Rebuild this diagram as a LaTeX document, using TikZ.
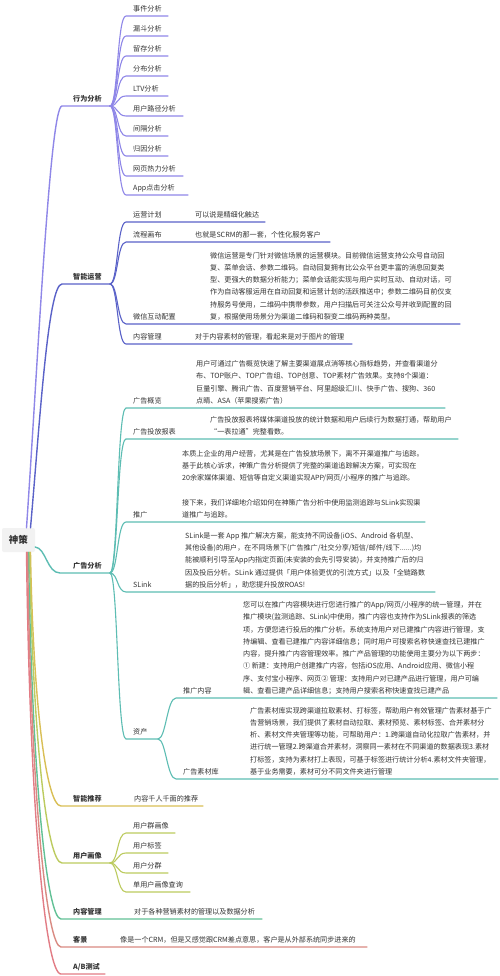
\documentclass[tikz,border=0pt]{standalone}
\usepackage{fontspec}
\setmainfont{Noto Sans CJK SC}
\usetikzlibrary{calc}
\definecolor{txt}{HTML}{333333}
\definecolor{cP}{HTML}{8F87E8}
\definecolor{cB}{HTML}{5A62C8}
\definecolor{cT}{HTML}{5DBDB3}
\definecolor{cG}{HTML}{D9BF56}
\definecolor{cY}{HTML}{BCCB5F}
\definecolor{cN}{HTML}{62C196}
\definecolor{cR}{HTML}{D98A82}
\definecolor{cK}{HTML}{E27C85}
\definecolor{rootbg}{HTML}{F2F2F2}
\newcommand\tf{\fontsize{7.1}{12.3}\selectfont}
\newcommand\mmkid[7]{%
  \coordinate (#6s) at (#3,#4);
  \coordinate (#6e) at (#5,#4);
  \draw[ln,#1] (#2) .. controls +(8,0) and +(-9,0) .. (#6s) -- (#6e);
  \node[lb] (#6) at ($(#6s)+(7,-4.5)$) {#7};
}
\newcommand\mmdet[4]{\node[dt] (#1) at (#2,#3-4.5) {#4};}
\begin{document}
\begin{tikzpicture}[x=1pt,y=-1pt,
  lb/.style={anchor=base west, inner sep=0pt, font=\tf, text=txt},
  lone/.style={lb, font=\tf\bfseries},
  dt/.style={lb, align=left},
  br/.style={line width=1.4pt, line cap=round},
  ln/.style={line width=1.1pt, line cap=round}]
\useasboundingbox[fill=white] (0,0) rectangle (500,976);

\node[fill=rootbg, rounded corners=2pt, minimum width=33pt, minimum height=24pt,
  inner sep=0pt, font=\fontsize{9.5}{11}\selectfont\bfseries, text=txt] (root) at (18.5,540) {神策};

% ---------------- 行为分析
\coordinate (xwS) at (62,106); \coordinate (xwF) at (110,106);
\draw[br,cP] ($(root.north)+(8,0)$) .. controls (38,360) and (50,106) .. (xwS) -- (xwF);
\node[lone] (xw) at (73,101.5) {行为分析};
\mmkid{cP}{xwF}{126}{16}{168}{xa}{事件分析}
\mmkid{cP}{xwF}{126}{36}{168}{xb}{漏斗分析}
\mmkid{cP}{xwF}{126}{56}{168}{xc}{留存分析}
\mmkid{cP}{xwF}{126}{76}{168}{xd}{分布分析}
\mmkid{cP}{xwF}{126}{96}{168}{xe}{LTV分析}
\mmkid{cP}{xwF}{126}{116}{183}{xf}{用户路径分析}
\mmkid{cP}{xwF}{126}{136}{168}{xg}{间隔分析}
\mmkid{cP}{xwF}{126}{156}{168}{xh}{归因分析}
\mmkid{cP}{xwF}{126}{176}{183}{xi}{网页热力分析}
\mmkid{cP}{xwF}{126}{195}{188}{xj}{App点击分析}

% ---------------- 智能运营
\coordinate (zyS) at (62,284); \coordinate (zyF) at (110,284);
\draw[br,cB] ($(root.north)+(12,0)$) .. controls (40,420) and (48,284) .. (zyS) -- (zyF);
\node[lone] (zy) at (73,279.5) {智能运营};
\mmkid{cB}{zyF}{126}{222}{265}{za}{运营计划}
\mmdet{zad}{195}{222}{可以说是精细化触达}
\mmkid{cB}{zyF}{126}{242}{330}{zb}{流程画布}
\mmdet{zbd}{195}{242}{也就是SCRM的那一套，个性化服务客户}
\mmkid{cB}{zyF}{126}{324}{460}{zc}{微信互动配置}
\mmdet{zcd}{210}{324}{微信运营是专门针对微信场景的运营模块。目前微信运营支持公众号自动回\\
复、菜单会话、参数二维码。自动回复拥有比公众平台更丰富的消息回复类\\
型、更强大的数据分析能力；菜单会话能实现与用户实时互动、自动对话，可\\
作为自动客服运用在自动回复和运营计划的活跃推送中；参数二维码目前仅支\\
持服务号使用，二维码中携带参数，用户扫描后可关注公众号并收到配置的回\\
复，根据使用场景分为渠道二维码和裂变二维码两种类型。}
\mmkid{cB}{zyF}{126}{344}{352}{zd}{内容管理}
\mmdet{zdd}{195}{344}{对于内容素材的管理，看起来是对于图片的管理}

% ---------------- 广告分析
\coordinate (ggS) at (60,573); \coordinate (ggF) at (110,573);
\draw[br,cT] ($(root.east)+(0,7)$) .. controls (46,548) and (47,573) .. (ggS) -- (ggF);
\node[lone] (gg) at (73,568.5) {广告分析};
\mmkid{cT}{ggF}{126}{408}{445}{ga}{广告概览}
\mmdet{gad}{196}{408}{用户可通过广告概览快速了解主要渠道展点消等核心指标趋势，并查看渠道分\\
布、TOP账户、TOP广告组、TOP创意、TOP素材广告效果。支持8个渠道：\\
巨量引擎、腾讯广告、百度营销平台、阿里超级汇川、快手广告、搜狗、360\\
点睛、ASA（苹果搜索广告）}
\mmkid{cT}{ggF}{126}{439}{458}{gb}{广告投放报表}
\mmdet{gbd}{210}{439}{广告投放报表将媒体渠道投放的统计数据和用户后续行为数据打通，帮助用户\\
“一表拉通”完整看数。}
\mmkid{cT}{ggF}{126}{522}{425}{gc}{推广}
\mmdet{gcd}{182}{522}{本质上企业的用户经营，尤其是在广告投放场景下，离不开渠道推广与追踪。\\
基于此核心诉求，神策广告分析提供了完整的渠道追踪解决方案，可实现在\\
20余家媒体渠道、短信等自定义渠道实现APP/网页/小程序的推广与追踪。\\[12.3pt]
接下来，我们详细地介绍如何在神策广告分析中使用监测追踪与SLink实现渠\\
道推广与追踪。}
\mmkid{cT}{ggF}{126}{592}{435}{gd}{SLink}
\mmdet{gdd}{185}{592}{SLink是一套 App 推广解决方案，能支持不同设备(iOS、Android 各机型、\\
其他设备)的用户，在不同场景下(广告推广/社交分享/短信/邮件/线下......)均\\
能被顺利引导至App内指定页面(未安装的会先引导安装)，并支持推广后的归\\
因及投后分析。SLink 通过提供「用户体验更优的引流方式」以及「全链路数\\
据的投后分析」，助您提升投放ROAS!}
\mmkid{cT}{ggF}{126}{739}{158}{ge}{资产}
\coordinate (geF) at (158,739);
\mmkid{cT}{geF}{176}{698}{497}{gf}{推广内容}
\mmdet{gfd}{243}{698}{您可以在推广内容模块进行您进行推广的App/网页/小程序的统一管理，并在\\
推广模块(监测追踪、SLink)中使用，推广内容也支持作为SLink报表的筛选\\
项，方便您进行投后的推广分析。系统支持用户对已建推广内容进行管理，支\\
持编辑、查看已建推广内容详细信息；同时用户可搜索名称快速查找已建推广\\
内容，提升推广内容管理效率。推广产品管理的功能使用主要分为以下两步：\\
① 新建：支持用户创建推广内容，包括iOS应用、Android应用、微信小程\\
序、支付宝小程序、网页② 管理：支持用户对已建产品进行管理，用户可编\\
辑、查看已建产品详细信息；支持用户搜索名称快速查找已建产品}
\mmkid{cT}{geF}{176}{779}{498}{gg2}{广告素材库}
\mmdet{ggd}{250}{779}{广告素材库实现跨渠道拉取素材、打标签，帮助用户有效管理广告素材基于广\\
告营销场景，我们提供了素材自动拉取、素材预览、素材标签、合并素材分\\
析、素材文件夹管理等功能，可帮助用户：1.跨渠道自动化拉取广告素材，并\\
进行统一管理2.跨渠道合并素材，洞察同一素材在不同渠道的数据表现3.素材\\
打标签，支持为素材打上表现，可基于标签进行统计分析4.素材文件夹管理，\\
基于业务需要，素材可分不同文件夹进行管理}

% ---------------- 智能推荐
\coordinate (tjS) at (61,806); \coordinate (tjE) at (203,806);
\draw[br,cG] ($(root.south)+(12,0)$) .. controls (33,700) and (46,806) .. (tjS) -- (tjE);
\node[lone] (tj) at (73,801.5) {智能推荐};
\mmdet{tjd}{134}{806}{内容千人千面的推荐}

% ---------------- 用户画像
\coordinate (hxS) at (62,863); \coordinate (hxF) at (110,863);
\draw[br,cY] ($(root.south)+(11,0)$) .. controls (33,740) and (47,863) .. (hxS) -- (hxF);
\node[lone] (hx) at (73,858.5) {用户画像};
\mmkid{cY}{hxF}{126}{833}{175}{ha}{用户群画像}
\mmkid{cY}{hxF}{126}{853}{168}{hb}{用户标签}
\mmkid{cY}{hxF}{126}{873}{168}{hc}{用户分群}
\mmkid{cY}{hxF}{126}{892}{190}{hd}{单用户画像查询}

% ---------------- 内容管理
\coordinate (nrS) at (61,919); \coordinate (nrE) at (262,919);
\draw[br,cN] ($(root.south)+(10,0)$) .. controls (32,780) and (47,919) .. (nrS) -- (nrE);
\node[lone] (nr) at (73,914.5) {内容管理};
\mmdet{nrd}{134}{919}{对于各种营销素材的管理以及数据分析}

% ---------------- 客景
\coordinate (kjS) at (61,947); \coordinate (kjE) at (367,947);
\draw[br,cR] ($(root.south)+(9,0)$) .. controls (31,800) and (47,947) .. (kjS) -- (kjE);
\node[lone] (kj) at (73,942.5) {客景};
\mmdet{kjd}{120}{947}{像是一个CRM，但是又感觉跟CRM差点意思，客户是从外部系统同步进来的}

% ---------------- A/B测试
\coordinate (abS) at (61,974); \coordinate (abE) at (105,974);
\draw[br,cK] ($(root.south)+(8,0)$) .. controls (30,820) and (46,974) .. (abS) -- (abE);
\node[lone] (ab) at (73,969.5) {A/B测试};
\end{tikzpicture}
\end{document}
